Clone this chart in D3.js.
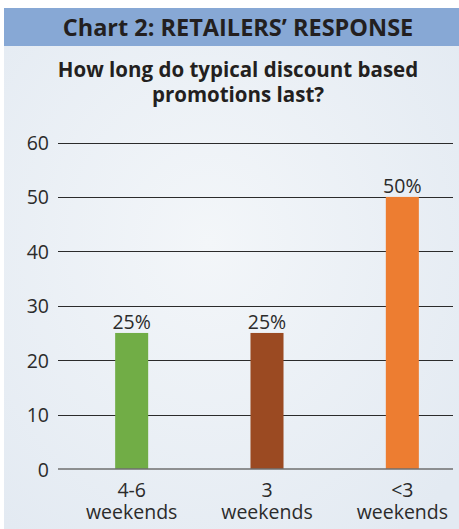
<!DOCTYPE html>
<html><head><meta charset="utf-8">
<script src="https://cdn.jsdelivr.net/npm/d3@7"></script>
<style>html,body{margin:0;padding:0;background:#fff;}svg{display:block;}</style>
</head><body>
<svg id="c" width="459" height="529"></svg>
<script>
const categories = ["4-6|weekends", "3|weekends", "<3|weekends"];
const values = [25, 25, 50];
const valueLabels = ["25%", "25%", "50%"];
const colors = ["#71ad46", "#9b4a22", "#ed7d31"];
const yTicks = [0, 10, 20, 30, 40, 50, 60];
const title = "Chart 2: RETAILERS’ RESPONSE";
const subtitle = ["How long do typical discount based", "promotions last?"];

const font = "'Open Sans', 'Noto Sans', sans-serif";
const svg = d3.select("#c");
const defs = svg.append("defs");
const grad = defs.append("radialGradient").attr("id", "bg").attr("cx", "45%").attr("cy", "45%").attr("r", "70%");
grad.append("stop").attr("offset", "0%").attr("stop-color", "#f3f6f9");
grad.append("stop").attr("offset", "100%").attr("stop-color", "#e3eaf2");

svg.append("rect").attr("x", 4).attr("y", 8).attr("width", 455).attr("height", 521).attr("fill", "url(#bg)");
svg.append("rect").attr("x", 4).attr("y", 8).attr("width", 455).attr("height", 38).attr("fill", "#87a8d5");
svg.append("text").attr("x", 238).attr("y", 36).attr("text-anchor", "middle")
  .attr("font-family", font).attr("font-weight", 700).attr("font-size", 23.5).attr("fill", "#231f20").text(title);
subtitle.forEach((s, i) => svg.append("text").attr("x", 238).attr("y", 77 + i * 25).attr("text-anchor", "middle")
  .attr("font-family", font).attr("font-weight", 700).attr("font-size", 20.5).attr("fill", "#231f20").text(s));

const y = d3.scaleLinear().domain([0, 60]).range([469, 142.5]);
const x = d3.scaleBand().domain(categories).range([64, 470]).paddingInner(0.756).paddingOuter(0.378);

const g = svg.append("g");
// gridlines
g.selectAll(".grid").data(yTicks.filter(d => d > 0)).join("line")
  .attr("x1", 58).attr("x2", 453).attr("y1", d => Math.round(y(d)) + 0.5).attr("y2", d => Math.round(y(d)) + 0.5)
  .attr("stroke", "#2b2b2b").attr("stroke-width", 1);
// y axis labels
const yAxis = d3.axisLeft(y).tickValues(yTicks).tickSize(0).tickPadding(0);
const ya = svg.append("g").attr("transform", "translate(49,0)").call(yAxis);
ya.select(".domain").remove();
ya.selectAll("text").attr("font-family", font).attr("font-size", 19.5).attr("fill", "#2b2b2b").attr("dy", "0.36em");

// bars
g.selectAll(".bar").data(values).join("rect")
  .attr("x", (d, i) => x(categories[i]))
  .attr("width", x.bandwidth())
  .attr("y", d => y(d)).attr("height", d => y(0) - y(d))
  .attr("fill", (d, i) => colors[i]);
// baseline
svg.append("line").attr("x1", 58).attr("x2", 453).attr("y1", y(0)).attr("y2", y(0)).attr("stroke", "#6f6f6f").attr("stroke-width", 1.5);
// value labels
g.selectAll(".vl").data(values).join("text")
  .attr("x", (d, i) => x(categories[i]) + x.bandwidth() / 2).attr("y", d => y(d) - 4)
  .attr("text-anchor", "middle").attr("font-family", font).attr("font-size", 19.5).attr("fill", "#2b2b2b")
  .text((d, i) => valueLabels[i]);
// x axis labels
const xAxis = d3.axisBottom(x).tickSize(0).tickFormat("");
const xa = svg.append("g").attr("transform", `translate(0,${y(0)})`).call(xAxis);
xa.select(".domain").remove();
xa.selectAll(".tick").each(function(d) {
  d.split("|").forEach((p, i) => d3.select(this).append("text").attr("text-anchor", "middle").attr("font-family", font)
    .attr("font-size", 19.5).attr("fill", "#2b2b2b").attr("x", 0).attr("y", 28 + i * 21.5).text(p));
});
</script>
</body></html>
